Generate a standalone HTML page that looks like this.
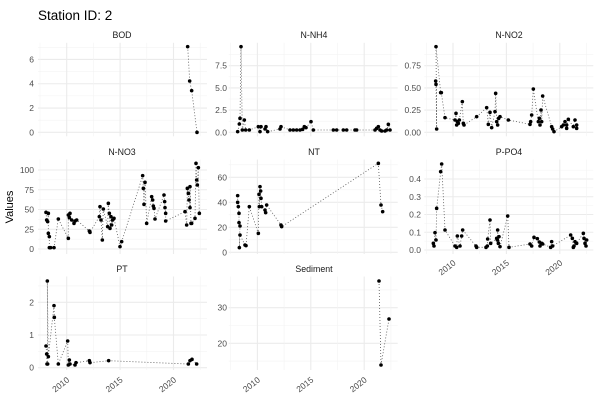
<!DOCTYPE html>
<html><head><meta charset="utf-8"><style>
html,body{margin:0;padding:0;background:#fff;}
svg{display:block;font-family:"Liberation Sans",sans-serif;}
.yl{font-size:8.5px;fill:#4d4d4d;text-anchor:end;}
.xl{font-size:8.5px;fill:#4d4d4d;text-anchor:end;}
.st{font-size:8.8px;fill:#1a1a1a;text-anchor:middle;}
</style></head><body>
<svg id="s" width="600" height="400" viewBox="0 0 600 400" xmlns="http://www.w3.org/2000/svg">
<rect width="600" height="400" fill="#fff"/>
<g id="grid"></g>
<g id="data"></g>
<text x="38" y="20" font-size="13.5" fill="#000">Station ID: 2</text>
<text transform="translate(13,207) rotate(-90)" font-size="11" fill="#000" text-anchor="middle">Values</text>
<text class="st" x="122" y="38">BOD</text>
<text class="st" x="314" y="38">N-NH4</text>
<text class="st" x="509" y="38">N-NO2</text>
<text class="st" x="122" y="155">N-NO3</text>
<text class="st" x="314" y="155">NT</text>
<text class="st" x="509" y="155">P-PO4</text>
<text class="st" x="122" y="272">PT</text>
<text class="st" x="314" y="272">Sediment</text>
<!-- y labels -->
<text class="yl" x="34" y="135.3">0</text><text class="yl" x="34" y="111">2</text><text class="yl" x="34" y="86.7">4</text><text class="yl" x="34" y="62.4">6</text>
<text class="yl" x="227" y="135.3">0.0</text><text class="yl" x="227" y="113.1">2.5</text><text class="yl" x="227" y="90.9">5.0</text><text class="yl" x="227" y="68.7">7.5</text>
<text class="yl" x="421" y="135.3">0.00</text><text class="yl" x="421" y="113.1">0.25</text><text class="yl" x="421" y="91.1">0.50</text><text class="yl" x="421" y="68.7">0.75</text>
<text class="yl" x="34" y="252">0</text><text class="yl" x="34" y="232.3">25</text><text class="yl" x="34" y="212.5">50</text><text class="yl" x="34" y="192.8">75</text><text class="yl" x="34" y="173">100</text>
<text class="yl" x="227" y="255.3">0</text><text class="yl" x="227" y="230.3">20</text><text class="yl" x="227" y="205.3">40</text><text class="yl" x="227" y="180.3">60</text>
<text class="yl" x="421" y="253">0.0</text><text class="yl" x="421" y="235.3">0.1</text><text class="yl" x="421" y="217.5">0.2</text><text class="yl" x="421" y="199.8">0.3</text><text class="yl" x="421" y="182">0.4</text>
<text class="yl" x="34" y="370.7">0</text><text class="yl" x="34" y="338">1</text><text class="yl" x="34" y="305.3">2</text>
<text class="yl" x="227" y="346.3">20</text><text class="yl" x="227" y="310.7">30</text>
<!-- x labels -->
<g class="xl">
<text transform="translate(70,381) rotate(-38)">2010</text>
<text transform="translate(123.4,381) rotate(-38)">2015</text>
<text transform="translate(176.8,381) rotate(-38)">2020</text>
<text transform="translate(260.7,381) rotate(-38)">2010</text>
<text transform="translate(314.1,381) rotate(-38)">2015</text>
<text transform="translate(367.5,381) rotate(-38)">2020</text>
<text transform="translate(456.3,264) rotate(-38)">2010</text>
<text transform="translate(509.7,264) rotate(-38)">2015</text>
<text transform="translate(563.1,264) rotate(-38)">2020</text>
</g>
</svg>
<script>
var NS="http://www.w3.org/2000/svg";
var G=document.getElementById("grid"),D=document.getElementById("data");
function el(p,t,a){var e=document.createElementNS(NS,t);for(var k in a)e.setAttribute(k,a[k]);p.appendChild(e);return e;}
var cols=[0,190.7,386.3],rows=[[42.8,136.3],[159.5,254],[276.5,370]];
// panels: col,row,y0,scale,majors,minors
var P=[
[0,0,132.3,12.14,[0,2,4,6],[1,3,5,7]],
[1,0,132.3,8.88,[0,2.5,5,7.5],[1.25,3.75,6.25,8.75]],
[2,0,132.3,88.8,[0,.25,.5,.75],[.125,.375,.625,.875]],
[0,1,249,0.79,[0,25,50,75,100],[12.5,37.5,62.5,87.5]],
[1,1,252.3,1.25,[0,20,40,60],[10,30,50,70]],
[2,1,250,177.5,[0,.1,.2,.3,.4],[.05,.15,.25,.35,.45]],
[0,2,367.7,32.7,[0,1,2],[.5,1.5,2.5]],
[1,2,414.5,3.56,[20,30],[15,25,35]]
];
P.forEach(function(p){
 var ox=cols[p[0]],r=rows[p[1]],x0=38+ox,x1=207+ox;
 p[5].forEach(function(v){var y=p[2]-v*p[3];if(y>r[0]-0.5&&y<r[1]+0.5)el(G,"line",{x1:x0,x2:x1,y1:y,y2:y,stroke:"#f3f3f3","stroke-width":0.6});});
 p[4].forEach(function(v){var y=p[2]-v*p[3];el(G,"line",{x1:x0,x2:x1,y1:y,y2:y,stroke:"#ebebeb","stroke-width":1.1});});
 for(var k=0;k<7;k++){var x=40+ox+k*26.7;el(G,"line",{x1:x,x2:x,y1:r[0],y2:r[1],stroke:k%2?"#ebebeb":"#f3f3f3","stroke-width":k%2?1.1:0.6});}
});
function series(ox,oy,pts){
 var s=pts.map(function(q){return (ox+q[0]/3).toFixed(1)+","+(oy+q[1]/3).toFixed(1);}).join(" ");
 el(D,"polyline",{points:s,fill:"none",stroke:"#555","stroke-width":0.8,"stroke-dasharray":"1 2"});
 pts.forEach(function(q){el(D,"circle",{cx:ox+q[0]/3,cy:oy+q[1]/3,r:1.8,fill:"#000"});});
}
series(0,0,[[563,140],[569,243],[575,272],[591,397]]);
series(200,25,[[113,320],[118,297],[120,280],[123,65],[127,315],[133,285],[137,315],[148,315],[175,305],[180,320],[183,305],[195,312],[198,305],[203,320],[240,312],[243,305],[270,315],[280,315],[290,315],[300,315],[308,313],[313,305],[318,308],[333,290],[340,315],[400,315],[410,315],[430,315],[440,315],[465,315],[470,315],[525,315],[530,310],[535,305],[540,315],[545,318],[555,318],[560,315],[565,298],[570,315]]);
series(200,25,[[707,168],[708,178],[710,312],[708,65],[722,203],[724,203],[735,278],[765,285],[768,265],[770,300],[772,290],[775,295],[778,285],[787,230],[790,295],[792,300],[830,275],[860,248],[865,298],[870,262],[875,308],[885,260],[887,205],[890,290],[893,300],[896,280],[900,275],[925,285],[990,298],[992,290],[995,270],[1000,192],[1015,290],[1018,280],[1020,300],[1023,255],[1025,290],[1028,213],[1055,305],[1058,312],[1062,320],[1085,305],[1090,300],[1095,290],[1100,310],[1100,300],[1105,283],[1120,305],[1125,285],[1130,300],[1130,310]]);
series(0,145,[[138,202],[140,225],[143,230],[145,205],[145,265],[148,275],[148,308],[152,308],[162,308],[175,222],[205,280],[205,210],[208,218],[210,205],[215,225],[222,235],[225,228],[230,225],[268,258],[270,262],[298,215],[300,185],[303,225],[307,285],[310,192],[323,245],[325,175],[328,205],[330,250],[333,215],[335,240],[338,225],[342,220],[360,305],[365,290],[428,92],[430,130],[432,178],[435,112],[440,235],[455,155],[458,165],[460,183],[462,190],[465,222],[492,150],[494,170],[495,188],[497,205],[497,228],[555,200],[560,240],[562,130],[565,145],[567,165],[570,188],[570,125],[573,235],[575,235],[585,220],[588,55],[590,105],[592,120],[595,68],[598,205]]);
series(0,145,[[713,152],[713,172],[715,185],[717,205],[717,233],[720,243],[718,308],[720,270],[735,300],[738,302],[748,185],[775,265],[777,148],[778,185],[780,125],[782,138],[783,160],[785,185],[795,195],[797,203],[800,180],[843,240],[845,245],[1135,55],[1143,180],[1148,200]]);
series(380,140,[[160,310],[162,318],[165,278],[168,300],[170,205],[182,95],[185,72],[195,270],[225,318],[230,322],[232,288],[240,318],[245,288],[248,270],[288,318],[290,322],[318,322],[322,318],[323,297],[330,240],[332,310],[350,295],[352,300],[353,270],[355,310],[357,290],[360,320],[383,228],[387,322],[450,312],[455,318],[462,292],[472,296],[478,306],[480,318],[485,310],[488,312],[512,322],[515,305],[518,318],[572,285],[577,295],[580,322],[582,318],[585,305],[590,310],[610,280],[612,295],[615,310],[618,318],[620,300]]);
series(0,260,[[138,258],[140,282],[141,312],[143,312],[142,63],[145,290],[162,137],[163,172],[175,312],[203,243],[205,315],[208,300],[210,312],[225,315],[228,308],[268,302],[270,308],[326,302],[565,312],[570,302],[576,298],[590,312]]);
series(200,260,[[537,63],[543,315],[567,177]]);
</script>
</body></html>
